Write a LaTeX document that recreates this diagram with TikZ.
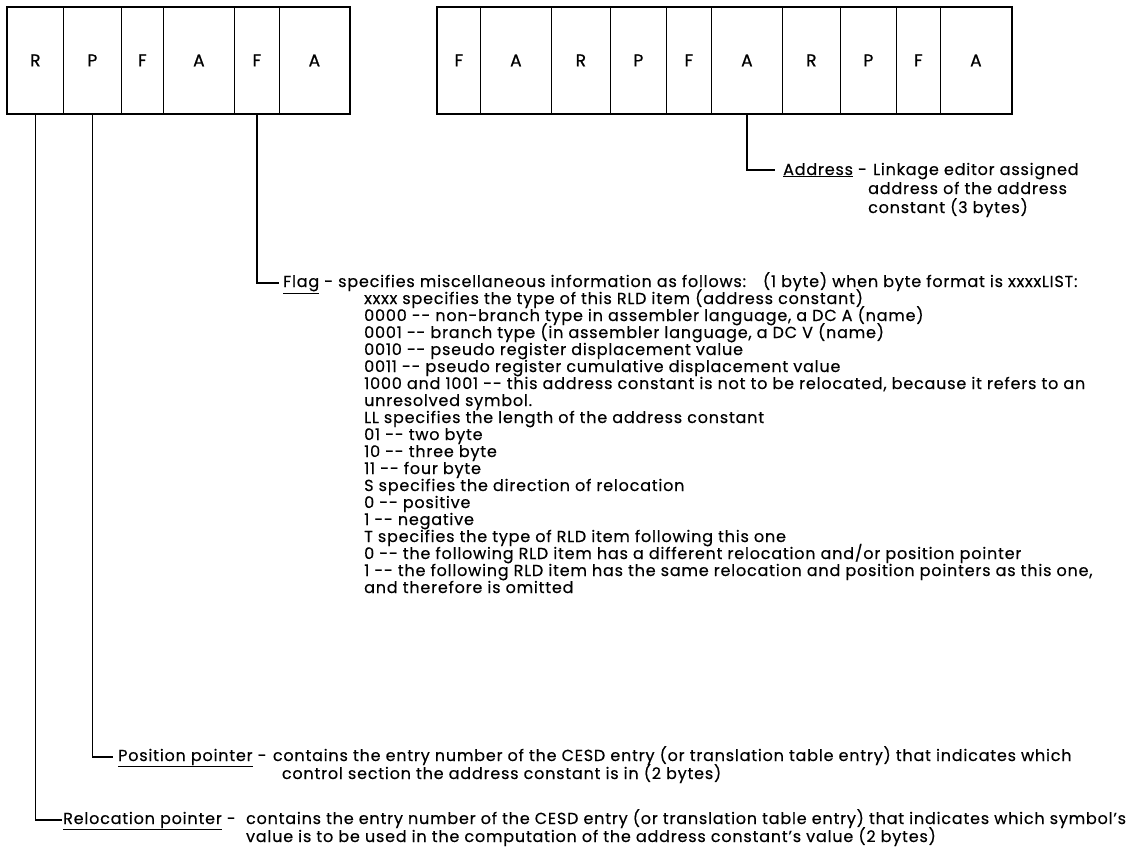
\documentclass[tikz,border=0pt]{standalone}
\usepackage{fontspec}
\setmainfont{Poppins}[LetterSpace=5, FakeBold=0.4]
\newfontfamily\cellfont{Poppins}[FakeBold=0.8]
\newcommand{\dd}{-{}-}
\begin{document}
\begin{tikzpicture}[x=1pt,y=-1pt,
  cell/.style={draw, line width=0.8pt, minimum height=106pt, inner sep=0pt, anchor=north west, font=\cellfont\fontsize{17}{19}\selectfont},
  frame/.style={draw, line width=1.8pt},
  conn/.style={draw, line width=1.3pt},
  txt/.style={anchor=base west, inner sep=0pt, font=\fontsize{16}{17}\selectfont}]
\useasboundingbox (0,0) rectangle (1144,849);
% first record
\node[cell, minimum width=56] (c1) at (7,7) {R};
\node[cell, minimum width=58] (c2) at (63,7) {P};
\node[cell, minimum width=42] (c3) at (121,7) {F};
\node[cell, minimum width=71] (c4) at (163,7) {A};
\node[cell, minimum width=45] (c5) at (234,7) {F};
\node[cell, minimum width=70] (c6) at (279,7) {A};
\draw[frame] (c1.north west) rectangle (c6.south east);
% second record
\node[cell, minimum width=43] (d1) at (437,7) {F};
\node[cell, minimum width=71] (d2) at (480,7) {A};
\node[cell, minimum width=59] (d3) at (551,7) {R};
\node[cell, minimum width=56] (d4) at (610,7) {P};
\node[cell, minimum width=45] (d5) at (666,7) {F};
\node[cell, minimum width=71] (d6) at (711,7) {A};
\node[cell, minimum width=58] (d7) at (782,7) {R};
\node[cell, minimum width=56] (d8) at (840,7) {P};
\node[cell, minimum width=44] (d9) at (896,7) {F};
\node[cell, minimum width=71] (d10) at (940,7) {A};
\draw[frame] (d1.north west) rectangle (d10.south east);
% Address
\node[txt] (addr) at (783,175) {\underline{Address} -};
\node[txt] (addrb) at (873,175) {Linkage editor assigned};
\node[txt] (addr2) at (868,194) {address of the address};
\node[txt] (addr3) at (868,213) {constant (3 bytes)};
\coordinate (ka) at (d6.south |- 0,170);
\draw[conn] (d6.south) -- (ka) -- ([xshift=-8]addr.west |- ka);
% Flag
\node[txt] (flag) at (283,287) {\underline{Flag} - specifies miscellaneous information as follows: \ \ (1 byte) when byte format is xxxxLIST:};
\foreach \t [count=\i] in {
 {xxxx specifies the type of this RLD item (address constant)},
 {0000 \dd\ non-branch type in assembler language, a DC A (name)},
 {0001 \dd\ branch type (in assembler language, a DC V (name)},
 {0010 \dd\ pseudo register displacement value},
 {0011 \dd\ pseudo register cumulative displacement value},
 {1000 and 1001 \dd\ this address constant is not to be relocated, because it refers to an},
 {unresolved symbol.},
 {LL specifies the length of the address constant},
 {01 \dd\ two byte},
 {10 \dd\ three byte},
 {11 \dd\ four byte},
 {S specifies the direction of relocation},
 {0 \dd\ positive},
 {1 \dd\ negative},
 {T specifies the type of RLD item following this one},
 {0 \dd\ the following RLD item has a different relocation and/or position pointer},
 {1 \dd\ the following RLD item has the same relocation and position pointers as this one,},
 {and therefore is omitted}}
 { \node[txt] (f\i) at (364,287+17*\i) {\t}; }
\coordinate (kf) at (c5.south |- 0,283);
\draw[conn] (c5.south) -- (kf) -- ([xshift=-4]flag.west |- kf);
% Position pointer
\node[txt] (pos) at (118,761) {\underline{Position pointer} -};
\node[txt, anchor=base west] (posb) at ([xshift=6]pos.base east) {contains the entry number of the CESD entry (or translation table entry) that indicates which};
\node[txt] (pos2) at ([xshift=9,yshift=-18]posb.base west) {control section the address constant is in (2 bytes)};
\coordinate (kp) at (c2.south |- 0,757);
\draw[conn] (c2.south) -- (kp) -- ([xshift=-5]pos.west |- kp);
% Relocation pointer
\node[txt] (rel) at (63,824) {\underline{Relocation pointer} -};
\node[txt] (relb) at ([xshift=10]rel.base east) {contains the entry number of the CESD entry (or translation table entry) that indicates which symbol's};
\node[txt] (rel2) at ([yshift=-18]relb.base west) {value is to be used in the computation of the address constant's value (2 bytes)};
\coordinate (kr) at (c1.south |- 0,820);
\draw[conn] (c1.south) -- (kr) -- ([xshift=-1]rel.west |- kr);
\end{tikzpicture}
\end{document}
